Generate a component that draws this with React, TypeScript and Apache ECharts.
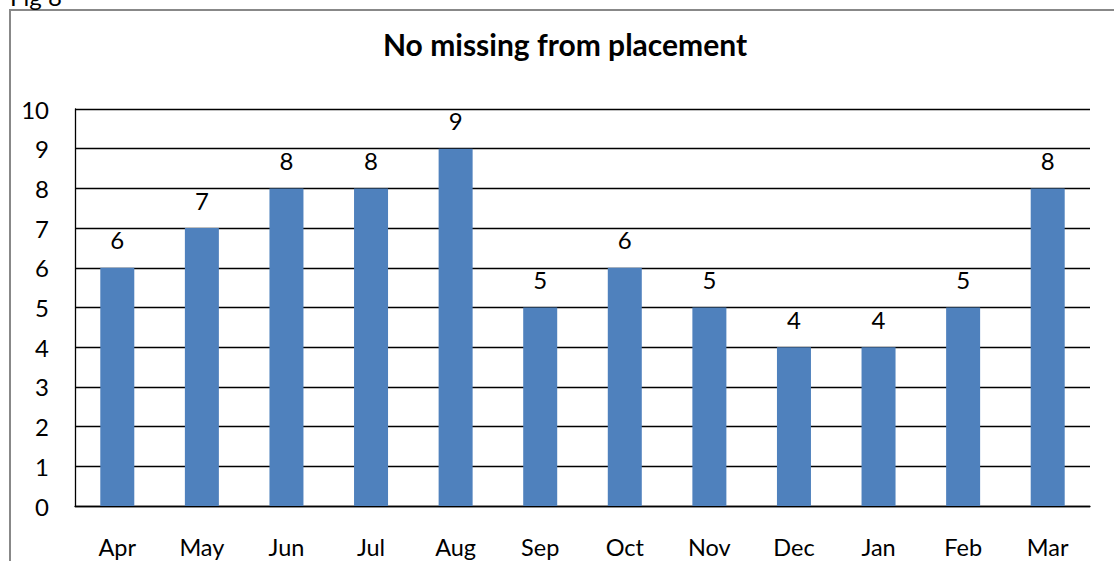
import React, { useEffect, useRef } from "react";
import * as echarts from "echarts";

const categories = ["Apr", "May", "Jun", "Jul", "Aug", "Sep", "Oct", "Nov", "Dec", "Jan", "Feb", "Mar"];
const values = [6, 7, 8, 8, 9, 5, 6, 5, 4, 4, 5, 8];
const titleText = "No missing from placement";
const figLabel = "Fig 8";

const FONT = "Lato, 'Open Sans', sans-serif";

export default function App() {
  const ref = useRef<HTMLDivElement>(null);
  useEffect(() => {
    if (!ref.current) return;
    const chart = echarts.init(ref.current, null, { renderer: "svg" });
    chart.setOption({
      animation: false,
      backgroundColor: "#ffffff",
      textStyle: { fontFamily: FONT },
      graphic: [
        {
          type: "rect",
          shape: { x: 10, y: 10, width: 1200, height: 700 },
          style: { fill: "none", stroke: "#888888", lineWidth: 2 },
          silent: true,
        },
        {
          type: "text",
          x: 10,
          y: 8,
          style: { text: figLabel, fontFamily: FONT, fontSize: 24, fill: "#000", verticalAlign: "bottom" },
          silent: true,
        },
        {
          type: "text",
          x: 565,
          y: 44,
          style: {
            text: titleText,
            fontFamily: FONT,
            fontSize: 30,
            fontWeight: "bold",
            fill: "#000",
            align: "center",
            verticalAlign: "middle",
          },
          silent: true,
        },
      ],
      grid: { left: 75, right: 24, top: 109, bottom: 55, containLabel: false },
      xAxis: {
        type: "category",
        data: categories,
        axisLine: { show: true, lineStyle: { color: "#000", width: 1.3 } },
        axisTick: { show: false },
        axisLabel: { color: "#000", fontSize: 23.5, fontFamily: FONT, margin: 29 },
      },
      yAxis: {
        type: "value",
        min: 0,
        max: 10,
        interval: 1,
        axisLine: { show: true, lineStyle: { color: "#000", width: 1.3 } },
        axisTick: { show: false },
        axisLabel: { color: "#000", fontSize: 24, fontFamily: FONT, margin: 26 },
        splitLine: { show: true, lineStyle: { color: "#000", width: 1.3 } },
      },
      series: [
        {
          type: "bar",
          data: values,
          barWidth: 34,
          itemStyle: { color: "#4F81BD" },
          label: { show: true, position: "top", distance: 16, color: "#000", fontSize: 24, fontFamily: FONT },
        },
      ],
    });
    return () => chart.dispose();
  }, []);
  return <div ref={ref} style={{ position: "fixed", left: 0, top: 0, width: 1114, height: 561 }} />;
}
